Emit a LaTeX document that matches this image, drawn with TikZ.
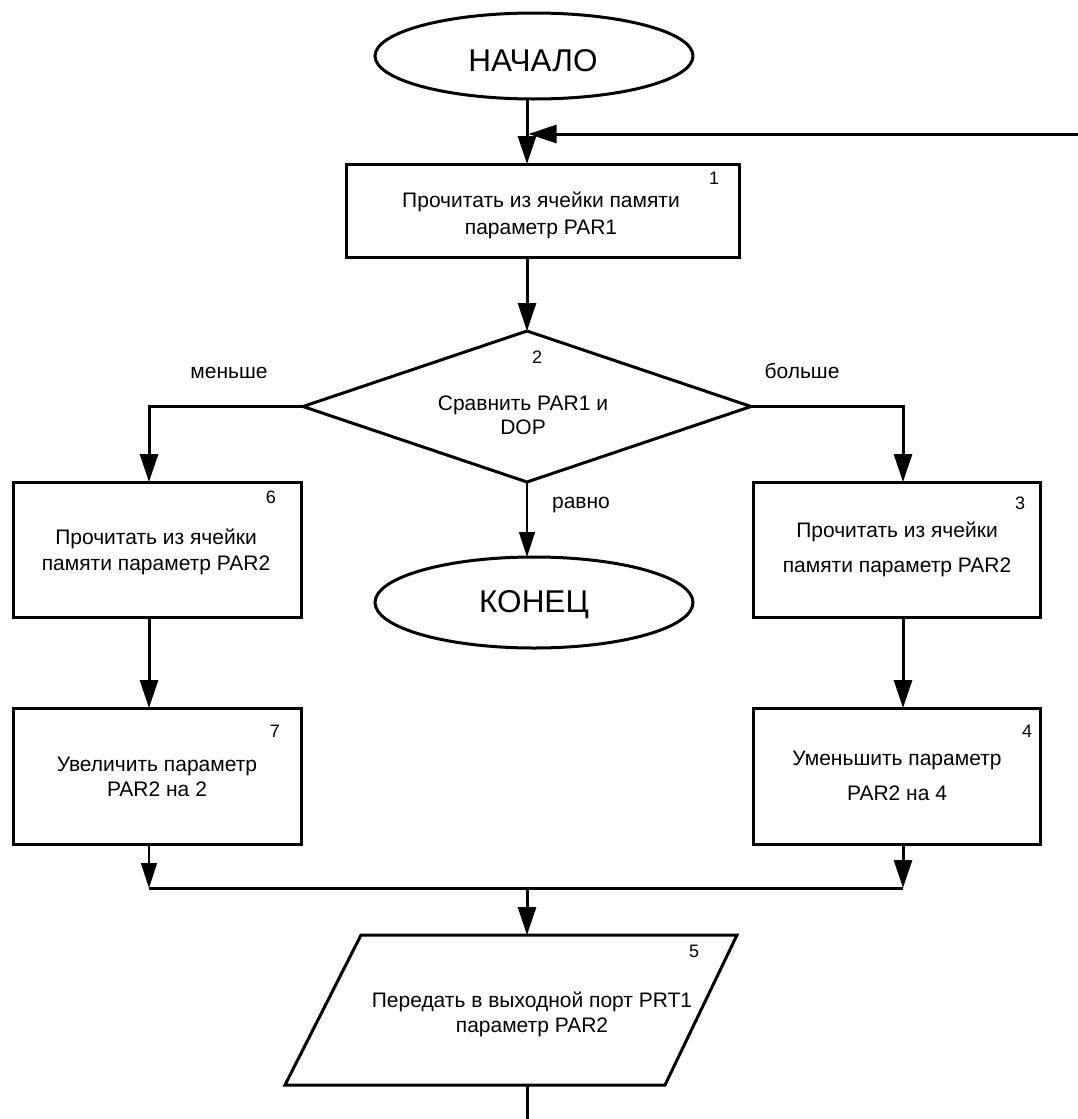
\documentclass[tikz,border=0pt]{standalone}
\usepackage{fontspec}
\setmainfont{Liberation Sans}
\usetikzlibrary{arrows.meta,shapes.geometric,calc}

\tikzset{
  every node/.style={inner sep=0pt, outer sep=0pt},
  body/.style={font=\fontsize{21}{26}\selectfont, anchor=base},
  num/.style={font=\fontsize{18}{21}\selectfont, anchor=base},
  lbl/.style={font=\fontsize{21}{25}\selectfont, anchor=base},
  big/.style={font=\fontsize{31.5}{36}\selectfont, anchor=base},
  outline/.style={draw, line width=3pt},
  terminal/.style={outline, ellipse, minimum width=318pt, minimum height=#1},
  procbox/.style={outline, rectangle, minimum width=288pt, minimum height=136pt},
  flow/.style={line width=3pt, -{Triangle[length=28pt,width=18pt]}},
  flowthin/.style={line width=1.5pt, -{Triangle[length=25pt,width=16pt]}},
  plain/.style={line width=3pt},
}

\begin{document}
\begin{tikzpicture}[x=1pt,y=-1pt]
\useasboundingbox (0,0) rectangle (1078,1119);

% connector columns
\coordinate (colL) at (149,0);
\coordinate (colM) at (527,0);
\coordinate (colR) at (903,0);

% terminals
\node[terminal=86pt] (start) at (534,56) {};
\node[big] (startT) at (533,71) {НАЧАЛО};
\node[terminal=91pt] (finish) at (534,602.5) {};
\node[big] (finishT) at (534,612) {КОНЕЦ};

% block 1
\node[procbox, minimum width=393pt, minimum height=93pt] (b1) at (542.5,210.5) {};
\node[num]  (b1n)  at (714,184.5) {1};
\node[body] (b1l1) at (541,207) {Прочитать из ячейки памяти};
\node[body] (b1l2) at (541,234) {параметр PAR1};

% block 2: decision
\node[outline, diamond, minimum width=448pt, minimum height=151pt] (d) at (527,406.5) {};
\node[num]  (dn)  at (537,363.5) {2};
\node[body] (dl1) at (523,410) {Сравнить PAR1 и};
\node[body] (dl2) at (523,434) {DOP};

% branch labels
\node[lbl] (lLess) at (229,378) {меньше};
\node[lbl] (lMore) at (802,378) {больше};
\node[lbl] (lEq)   at (581,508) {равно};

% block 6
\node[procbox, minimum height=135pt] (b6) at (157,549.5) {};
\node[num]  (b6n)  at (271,503.5) {6};
\node[body] (b6l1) at (156,544) {Прочитать из ячейки};
\node[body] (b6l2) at (156,570) {памяти параметр PAR2};

% block 3
\node[procbox, minimum width=287pt, minimum height=135pt] (b3) at (896.5,549.5) {};
\node[num]  (b3n)  at (1020,509.5) {3};
\node[body] (b3l1) at (897,537) {Прочитать из ячейки};
\node[body] (b3l2) at (897,572) {памяти параметр PAR2};

% block 7
\node[procbox] (b7) at (157,776) {};
\node[num]  (b7n)  at (275,737.5) {7};
\node[body] (b7l1) at (157,771) {Увеличить параметр};
\node[body] (b7l2) at (157,796) {PAR2 на 2};

% block 4
\node[procbox, minimum width=287pt] (b4) at (896.5,776) {};
\node[num]  (b4n)  at (1027,737.5) {4};
\node[body] (b4l1) at (897,765) {Уменьшить параметр};
\node[body] (b4l2) at (897,800) {PAR2 на 4};

% block 5: output parallelogram
\coordinate (p5bl) at (285,1085);
\coordinate (p5tl) at (361,935);
\coordinate (p5tr) at (737,935);
\coordinate (p5br) at (665,1085);
\draw[outline] (p5bl) -- (p5tl) -- (p5tr) -- (p5br) -- cycle;
\coordinate (p5top) at (colM |- p5tl);
\coordinate (p5bot) at (colM |- p5bl);
\node[num]  (b5n)  at (694,957.5) {5};
\node[body] (b5l1) at (532,1007) {Передать в выходной порт PRT1};
\node[body] (b5l2) at (532,1032) {параметр PAR2};

% junction points
\coordinate (fb) at (1078,134);
\coordinate (fbhit) at ($(colM |- fb)+(1.5,0)$);
\coordinate (mL) at (149,888);
\coordinate (mR) at (903,888);
\coordinate (mM) at (527,888);
\coordinate (exit) at (527,1119);

% connectors
\draw[flow] (start.south -| colM) -- (b1.north -| colM);
\draw[flow] (fb) -- (fbhit);
\draw[flow] (b1.south -| colM) -- (d.north);
\draw[flow] (d.west) -- (colL |- d.west) -- (b6.north -| colL);
\draw[flow] (d.east) -- (colR |- d.east) -- (b3.north -| colR);
\draw[flowthin] (d.south) -- (finish.north -| colM);
\draw[flow] (b6.south -| colL) -- (b7.north -| colL);
\draw[flow] (b3.south -| colR) -- (b4.north -| colR);
\draw[flowthin] (b7.south -| colL) -- (mL);
\draw[flow] (b4.south -| colR) -- (mR);
\draw[plain] (mL) -- (mR);
\draw[flow] (mM) -- (p5top);
\draw[plain] (p5bot) -- (exit);
\end{tikzpicture}
\end{document}
